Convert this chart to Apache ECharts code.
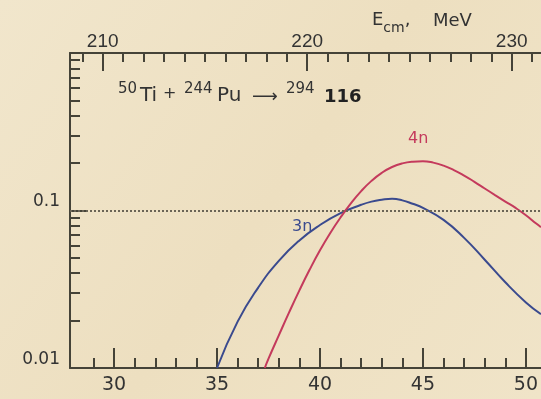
<!DOCTYPE html>
<html>
<head>
<meta charset="utf-8">
<script src="https://cdn.jsdelivr.net/npm/echarts@6/dist/echarts.min.js"></script>
<style>html,body{margin:0;padding:0;background:#efe2c3;}#c{width:541px;height:399px;}</style>
</head>
<body>
<div id="c"></div>
<script>
// Excitation energy E* (MeV) on the bottom axis, cross-section (log scale)
var e3n = [35, 36, 37, 38, 39, 40, 41, 42, 42.5, 43, 43.5, 44, 44.5, 45, 46, 47, 48, 49, 50, 50.73];
var sigma3n = [0.0100, 0.0197, 0.0324, 0.0479, 0.0646, 0.0809, 0.0962, 0.1087, 0.1139, 0.1170, 0.1186, 0.1160, 0.1103, 0.1039, 0.0872, 0.0670, 0.0487, 0.0350, 0.0261, 0.0220];
var e4n = [37.32, 37.5, 38, 38.5, 39, 39.5, 40, 40.5, 41, 41.5, 42, 42.5, 43, 43.5, 44, 44.5, 45, 45.5, 46, 46.5, 47, 47.5, 48, 48.5, 49, 49.5, 50, 50.5, 50.73];
var sigma4n = [0.0100, 0.01146, 0.01611, 0.02254, 0.03112, 0.04217, 0.05585, 0.07194, 0.09036, 0.1109, 0.1327, 0.1542, 0.1734, 0.1888, 0.1991, 0.2042, 0.2056, 0.2014, 0.1928, 0.1807, 0.1667, 0.1521, 0.1380, 0.1253, 0.1140, 0.1038, 0.0933, 0.0826, 0.0785];

var bottomMajor = [30, 35, 40, 45, 50];
var bottomMinor = [29, 31, 32, 33, 34, 36, 37, 38, 39, 41, 42, 43, 44, 46, 47, 48, 49];
var topMajor = [210, 220, 230];
var topMinor = [209, 211, 212, 213, 214, 215, 216, 217, 218, 219, 221, 222, 223, 224, 225, 226, 227, 228, 229, 231];
var yLabels = [0.01, 0.1];
var yMajor = [0.1];
var yMinor = [0.02, 0.03, 0.04, 0.05, 0.06, 0.07, 0.08, 0.09, 0.2, 0.3, 0.4, 0.5, 0.6, 0.7, 0.8, 0.9];

function pairs(xs, ys) { return xs.map(function (x, i) { return [x, ys[i]]; }); }

var AX = '#454338';
var TXT = '#333';
var chart = echarts.init(document.getElementById('c'));
chart.setOption({
  animation: false,
  backgroundColor: {
    type: 'linear', x: 0, y: 0, x2: 1, y2: 1,
    colorStops: [
      { offset: 0, color: '#f1e6cc' },
      { offset: 0.5, color: '#eddfc0' },
      { offset: 1, color: '#f0e4c8' }
    ]
  },
  grid: { left: 70, right: 0, top: 53, bottom: 31 },
  xAxis: [
    { type: 'value', position: 'bottom', min: 27.86, max: 50.73,
      axisLine: { show: true, lineStyle: { color: AX, width: 2 } },
      axisTick: { show: true, inside: true, length: 20, lineStyle: { color: AX, width: 2 }, customValues: bottomMajor },
      axisLabel: { show: true, customValues: bottomMajor, fontFamily: 'DejaVu Sans', fontSize: 19, color: TXT, margin: 8 },
      splitLine: { show: false } },
    { type: 'value', position: 'bottom', min: 27.86, max: 50.73,
      axisLine: { show: false },
      axisTick: { show: true, inside: true, length: 10, lineStyle: { color: AX, width: 2 }, customValues: bottomMinor },
      axisLabel: { show: false }, splitLine: { show: false } },
    { type: 'value', position: 'top', min: 208.4, max: 231.43,
      axisLine: { show: true, lineStyle: { color: AX, width: 2 } },
      axisTick: { show: true, inside: true, length: 18, lineStyle: { color: AX, width: 2 }, customValues: topMajor },
      axisLabel: { show: true, customValues: topMajor, fontFamily: 'Liberation Sans', fontSize: 19, color: TXT, margin: 2 },
      splitLine: { show: false } },
    { type: 'value', position: 'top', min: 208.4, max: 231.43,
      axisLine: { show: false },
      axisTick: { show: true, inside: true, length: 9, lineStyle: { color: AX, width: 2 }, customValues: topMinor },
      axisLabel: { show: false }, splitLine: { show: false } }
  ],
  yAxis: [
    { type: 'log', logBase: 10, min: 0.01, max: 1, position: 'left',
      axisLine: { show: true, lineStyle: { color: AX, width: 2 } },
      axisTick: { show: true, inside: true, length: 17, lineStyle: { color: AX, width: 2 }, customValues: yMajor },
      axisLabel: { show: true, customValues: yLabels, fontFamily: 'DejaVu Sans', fontSize: 17, color: TXT, margin: 10,
        verticalAlign: 'bottom', lineHeight: 17,
        formatter: function (v) { return v >= 0.1 ? '0.1' : '0.01'; } },
      splitLine: { show: false } },
    { type: 'log', logBase: 10, min: 0.01, max: 1, position: 'left',
      axisLine: { show: false },
      axisTick: { show: true, inside: true, length: 10, lineStyle: { color: AX, width: 2 }, customValues: yMinor },
      axisLabel: { show: false }, splitLine: { show: false } }
  ],
  series: [
    { type: 'line', name: '3n', xAxisIndex: 0, yAxisIndex: 0, data: pairs(e3n, sigma3n),
      smooth: 0.5, showSymbol: false, clip: true,
      lineStyle: { color: '#3a4a8e', width: 2 },
      markLine: { silent: true, symbol: 'none', label: { show: false },
        lineStyle: { color: '#6a6456', width: 2, type: [2, 2] },
        data: [{ yAxis: 0.1 }] } },
    { type: 'line', name: '4n', xAxisIndex: 0, yAxisIndex: 0, data: pairs(e4n, sigma4n),
      smooth: 0.5, showSymbol: false, clip: true,
      lineStyle: { color: '#c43a5c', width: 2 } }
  ],
  graphic: [
    { type: 'text', left: 118, top: 82, style: {
        text: '{s1|50}{t|Ti}{p|+}{s2|244}{u|Pu}{a|\u27F6}{s3|294}{b|116}',
        rich: {
          s1: { fontFamily: 'DejaVu Sans', fontSize: 15, lineHeight: 16, verticalAlign: 'top', fill: TXT, width: 22 },
          t: { fontFamily: 'DejaVu Sans', fontSize: 20, lineHeight: 24, verticalAlign: 'bottom', fill: TXT, width: 23 },
          p: { fontFamily: 'DejaVu Sans', fontSize: 16, lineHeight: 20, verticalAlign: 'bottom', fill: TXT, width: 21, padding: [0, 0, 4, 0] },
          s2: { fontFamily: 'DejaVu Sans', fontSize: 15, lineHeight: 16, verticalAlign: 'top', fill: TXT, width: 33 },
          u: { fontFamily: 'DejaVu Sans', fontSize: 20, lineHeight: 24, verticalAlign: 'bottom', fill: TXT, width: 35 },
          a: { fontFamily: 'DejaVu Sans', fontSize: 18, lineHeight: 22, verticalAlign: 'bottom', fill: TXT, width: 34 },
          s3: { fontFamily: 'DejaVu Sans', fontSize: 15, lineHeight: 16, verticalAlign: 'top', fill: TXT, width: 38 },
          b: { fontFamily: 'DejaVu Sans', fontSize: 18, fontWeight: 'bold', lineHeight: 24, verticalAlign: 'bottom', fill: '#222' }
        } } },
    { type: 'text', left: 372, top: 11, style: {
        text: '{n|E}{sub|cm}{n|,}',
        rich: {
          n: { fontFamily: 'DejaVu Sans', fontSize: 18, lineHeight: 24, verticalAlign: 'top', fill: TXT },
          sub: { fontFamily: 'DejaVu Sans', fontSize: 14, lineHeight: 24, verticalAlign: 'bottom', fill: TXT }
        } } },
    { type: 'text', left: 433, top: 12, style: { text: 'MeV', fontFamily: 'DejaVu Sans', fontSize: 18, fill: TXT } },
    { type: 'text', left: 408, top: 131, style: { text: '4n', fontFamily: 'DejaVu Sans', fontSize: 16, fill: '#c43a5c' } },
    { type: 'text', left: 292, top: 219, style: { text: '3n', fontFamily: 'DejaVu Sans', fontSize: 16, fill: '#3a4a8e' } }
  ]
});
</script>
</body>
</html>
